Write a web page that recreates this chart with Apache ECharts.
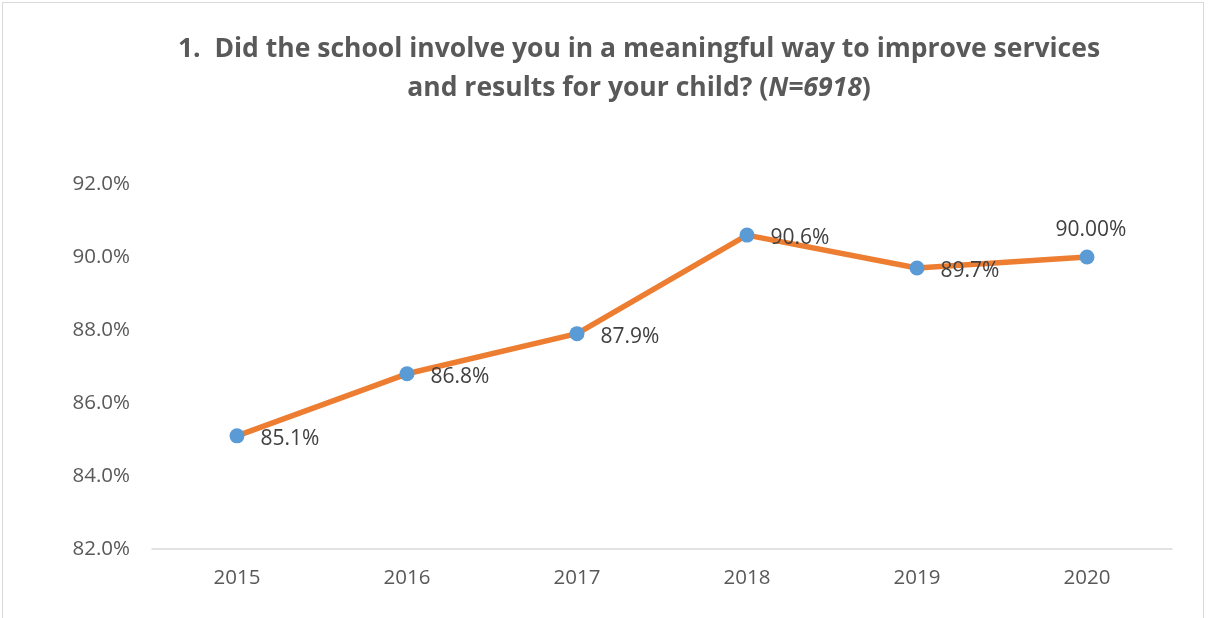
<!DOCTYPE html>
<html><head><meta charset="utf-8">
<script src="https://cdn.jsdelivr.net/npm/echarts@6/dist/echarts.min.js"></script>
<style>
html,body{margin:0;padding:0;background:#fff;}
#frame{position:absolute;left:2px;top:2px;width:1202px;height:640px;border:1.5px solid #d9d9d9;box-sizing:border-box;}
#c{position:absolute;left:0;top:0;width:1215px;height:618px;}
</style></head>
<body>
<div id="frame"></div>
<div id="c"></div>
<script>
const categories = ['2015','2016','2017','2018','2019','2020'];
const values = [85.1, 86.8, 87.9, 90.6, 89.7, 90.0];
const valueLabels = ['85.1%','86.8%','87.9%','90.6%','89.7%','90.00%'];
const titleLines = ['1.  Did the school involve you in a meaningful way to improve services', 'and results for your child? ({i|N=6918})'];

const chart = echarts.init(document.getElementById('c'), null, {renderer:'canvas'});
const data = values.map((v,i)=>{
  const d = {value:v};
  if (i === values.length-1) {
    d.label = {position:'top', offset:[4,-4]};
  }
  return d;
});
chart.setOption({
  animation:false,
  title:{
    text: titleLines.join('\n'),
    left: 634, top: 25, textAlign:'center',
    textStyle:{
      fontFamily:'Open Sans', fontWeight:'bold', fontSize:26.5, color:'#595959', lineHeight:39,
      rich:{i:{fontFamily:'Open Sans', fontWeight:'bold', fontStyle:'italic', fontSize:26.5, color:'#595959', lineHeight:39}}
    }
  },
  grid:{left:152, right:43, top:184, bottom:69},
  xAxis:{
    type:'category', data:categories, boundaryGap:true,
    axisLine:{lineStyle:{color:'#d9d9d9', width:1.5}},
    axisTick:{show:false},
    axisLabel:{color:'#595959', fontFamily:'Open Sans', fontSize:20.5, margin:19}
  },
  yAxis:{
    type:'value', min:82, max:92, interval:2,
    axisLine:{show:false}, axisTick:{show:false},
    splitLine:{show:false},
    axisLabel:{color:'#595959', fontFamily:'Open Sans', fontSize:20.5, margin:22, formatter:v=>v.toFixed(1)+'%'}
  },
  series:[{
    type:'line', data:data,
    lineStyle:{color:'#ED7D31', width:5.5},
    itemStyle:{color:'#5B9BD5'},
    symbol:'circle', symbolSize:15,
    label:{show:true, position:'right', offset:[11,3], color:'#404040', fontFamily:'Open Sans', fontSize:21,
      formatter:p=>valueLabels[p.dataIndex]}
  }]
});
</script>
</body></html>
